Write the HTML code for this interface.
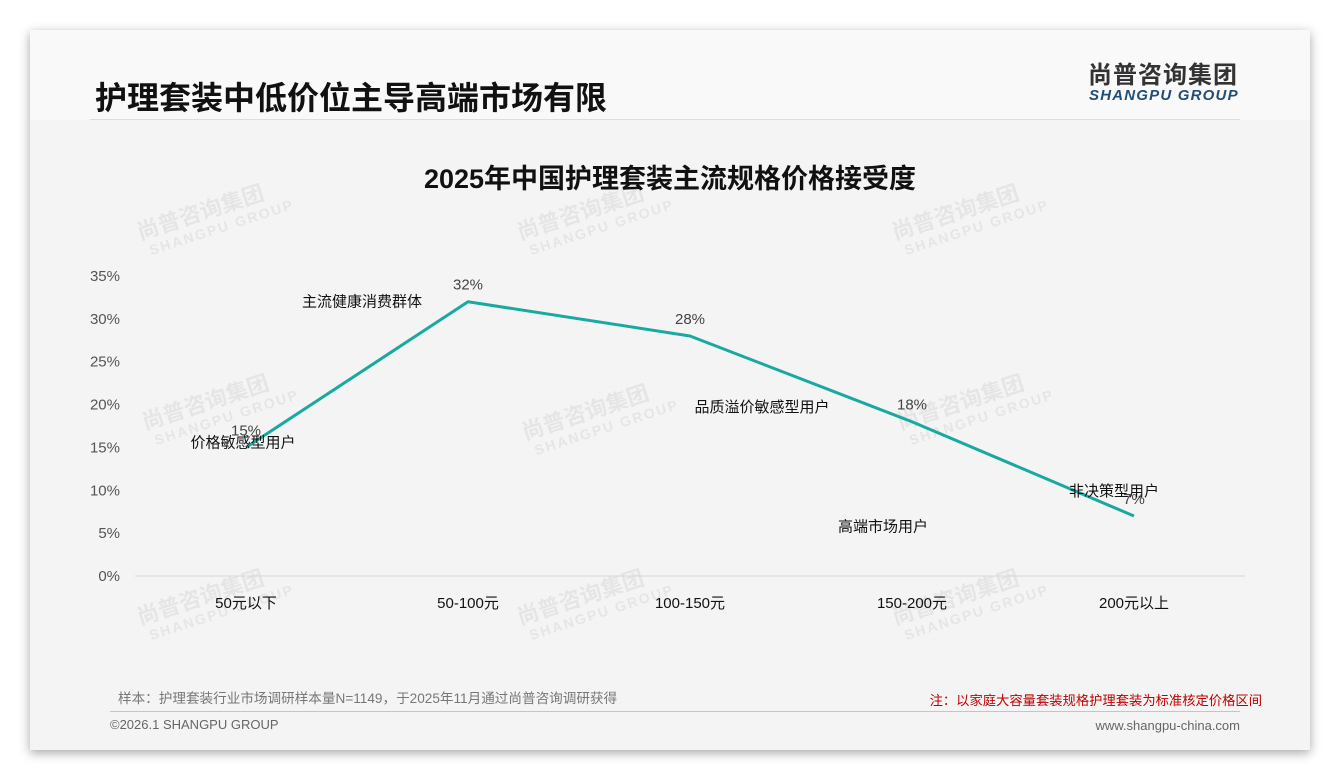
<!DOCTYPE html>
<html><head><meta charset="utf-8"><style>
body{margin:0;width:1340px;height:780px;background:#fff;position:relative;overflow:hidden;font-family:"Liberation Sans","Noto Sans CJK SC",sans-serif}
#card{position:absolute;left:30px;top:30px;width:1280px;height:720px;background:#f4f4f4;box-shadow:0 3px 10px rgba(0,0,0,.35)}
#head{position:absolute;left:0;top:0;width:1280px;height:90px;background:#f9f9f9}
.t{position:absolute;white-space:nowrap}
</style></head><body>
<div id="card">
<div id="head"></div>
<div class="t" style="left:65px;top:43px;font-size:32px;font-weight:bold;color:#111">护理套装中低价位主导高端市场有限</div>
<div class="t" style="left:1058px;top:25px;font-size:24px;font-weight:bold;color:#333;letter-spacing:1px">尚普咨询集团</div>
<div class="t" style="left:1059px;top:57px;font-size:15px;font-weight:bold;font-style:italic;color:#1f4e79;letter-spacing:1.2px">SHANGPU GROUP</div>
<div style="position:absolute;left:60px;top:89px;width:1150px;height:1px;background:#ddd"></div>
<div class="t" style="left:0;width:1280px;text-align:center;top:127px;font-size:27px;font-weight:bold;color:#111">2025年中国护理套装主流规格价格接受度</div>
<div class="t" style="left:88px;top:657px;font-size:13.6px;color:#777">样本：护理套装行业市场调研样本量N=1149，于2025年11月通过尚普咨询调研获得</div>
<div class="t" style="right:48px;top:660px;font-size:13.3px;color:#c00000">注：以家庭大容量套装规格护理套装为标准核定价格区间</div>
<div style="position:absolute;left:80px;top:681px;width:1130px;height:1px;background:#b8c8d8"></div>
<div class="t" style="left:80px;top:687px;font-size:13px;color:#666">©2026.1 SHANGPU GROUP</div>
<div class="t" style="right:70px;top:688px;font-size:13px;color:#666">www.shangpu-china.com</div>
</div>
<svg id="chart" width="1340" height="780" style="position:absolute;left:0;top:0"></svg>
<script>
const categories=["50元以下","50-100元","100-150元","150-200元","200元以上"];
const values=[15,32,28,18,7];
const yTicks=[0,5,10,15,20,25,30,35];
const annotations=["价格敏感型用户","主流健康消费群体","品质溢价敏感型用户","高端市场用户","非决策型用户"];
const annOffX=[-3,-106,72,-29,-20];
const annOffY=[0,5,76,110,-20];
const svg=document.getElementById('chart');const NS='http://www.w3.org/2000/svg';
const x0=135,x1=1245,y0=576,yTop=276,yMax=35;
const bw=(x1-x0)/categories.length;
const xs=i=>x0+bw*(i+0.5);
const ys=v=>y0-(v/yMax)*(y0-yTop);
function mk(tag,attrs,text){const e=document.createElementNS(NS,tag);for(const k in attrs)e.setAttribute(k,attrs[k]);if(text!==undefined)e.textContent=text;svg.appendChild(e);return e;}
[[140,240],[520,240],[895,240],[145,430],[525,440],[900,430],[140,625],[520,625],[895,625]].forEach(p=>{
const g=document.createElementNS(NS,'g');g.setAttribute('transform',`translate(${p[0]},${p[1]}) rotate(-18)`);


g.innerHTML='<text x="0" y="0" font-size="22" font-weight="bold" fill="#000" fill-opacity="0.06" font-family="Liberation Sans,Noto Sans CJK SC,sans-serif">尚普咨询集团</text><text x="6" y="18" font-size="14" font-weight="bold" fill="#000" fill-opacity="0.06" letter-spacing="2" font-family="Liberation Sans,sans-serif">SHANGPU GROUP</text>';svg.appendChild(g);});
let e=mk('line',{x1:x0,x2:x1,y1:y0,y2:y0,stroke:'#d6d6d6','stroke-width':1});


yTicks.forEach(t=>{const el=mk('text',{x:120,y:ys(t)+5,'text-anchor':'end','font-size':15,fill:'#555'},t+'%');

});
categories.forEach((c,i)=>{const el=mk('text',{x:xs(i),y:608,'text-anchor':'middle','font-size':15,fill:'#111'},c);

});
const pl=mk('polyline',{points:values.map((v,i)=>xs(i)+','+ys(v)).join(' '),fill:'none',stroke:'#1aa9a0','stroke-width':3,'stroke-linejoin':'round'});


values.forEach((v,i)=>{const el=mk('text',{x:xs(i),y:ys(v)-12,'text-anchor':'middle','font-size':15,fill:'#444'},v+'%');


const a=mk('text',{x:xs(i)+annOffX[i],y:ys(v)+annOffY[i],'text-anchor':'middle','font-size':15,fill:'#111'},annotations[i]);

});
</script>
</body></html>
